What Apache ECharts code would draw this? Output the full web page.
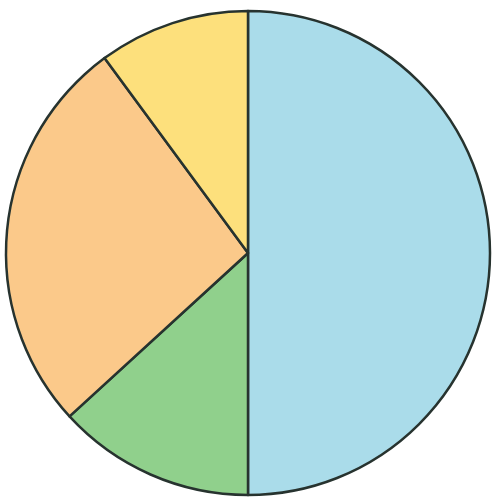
<!DOCTYPE html>
<html>
<head>
<meta charset="utf-8">
<script src="https://cdn.jsdelivr.net/npm/echarts@6/dist/echarts.min.js"></script>
<style>
  html, body { margin: 0; padding: 0; background: #ffffff; }
  #chart { width: 499px; height: 503px; }
</style>
</head>
<body>
<div id="chart"></div>
<script>
// Slice names, shares (percent) and fill colours, in clockwise order from the top
const sliceNames = ['A', 'B', 'C', 'D'];
const sliceValues = [50, 13.2, 26.7, 10.1];
const sliceColors = ['#aadcea', '#90d08c', '#fbc98a', '#fde07c'];

const chart = echarts.init(document.getElementById('chart'), null, { renderer: 'canvas' });

chart.setOption({
  animation: false,
  backgroundColor: '#ffffff',
  series: [{
    type: 'pie',
    center: [248, 253],
    radius: [0, 242],
    startAngle: 90,
    clockwise: true,
    label: { show: false },
    labelLine: { show: false },
    emphasis: { disabled: true },
    itemStyle: { borderColor: '#27332f', borderWidth: 2.5 },
    data: sliceNames.map((name, i) => ({
      name: name,
      value: sliceValues[i],
      itemStyle: { color: sliceColors[i] }
    }))
  }]
});
</script>
</body>
</html>
